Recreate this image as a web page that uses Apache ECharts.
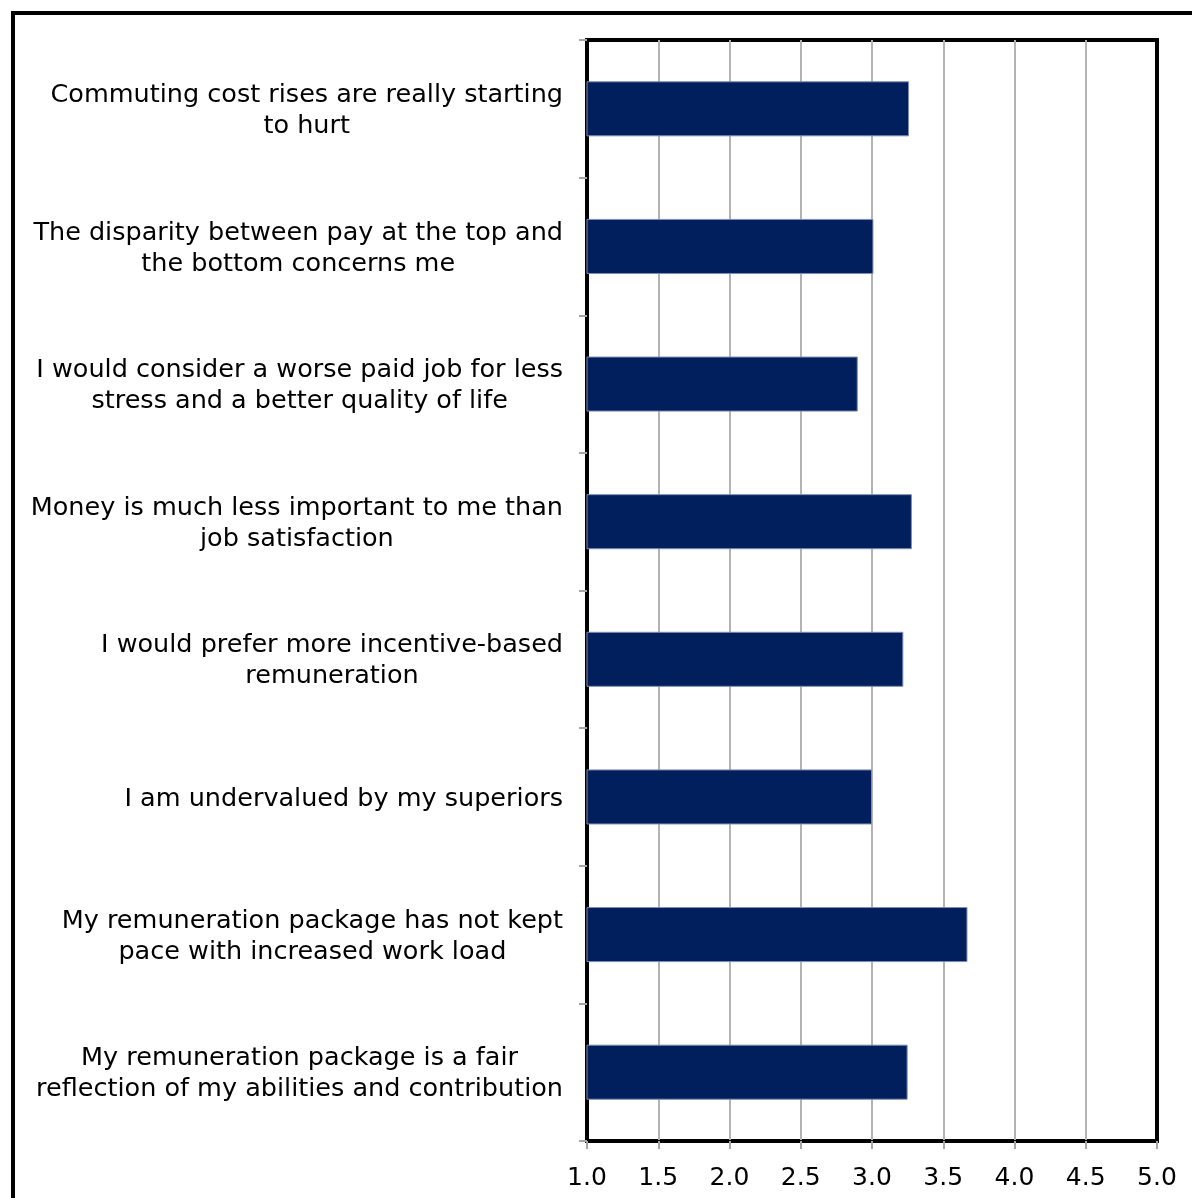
<!DOCTYPE html>
<html>
<head>
<meta charset="utf-8">
<title>Attitudes to pay and remuneration</title>
<script src="https://cdn.jsdelivr.net/npm/echarts@6/dist/echarts.min.js"></script>
<style>
  html, body { margin: 0; padding: 0; background: #fff; }
  #chart { width: 1192px; height: 1198px; }
</style>
</head>
<body>
<div id="chart"></div>
<script>
// Statements (top to bottom) and their mean agreement scores on a 1–5 scale
const statements = [
  'Commuting cost rises are really starting\nto hurt',
  'The disparity between pay at the top and\nthe bottom concerns me',
  'I would consider a worse paid job for less\nstress and a better quality of life',
  'Money is much less important to me than\njob satisfaction',
  'I would prefer more incentive-based\nremuneration',
  'I am undervalued by my superiors',
  'My remuneration package has not kept\npace with increased work load',
  'My remuneration package is a fair\nreflection of my abilities and contribution'
];
const scores = [3.26, 3.01, 2.90, 3.28, 3.22, 3.00, 3.67, 3.25];

// Value axis range and step
const axisMin = 1.0;
const axisMax = 5.0;
const axisStep = 0.5;

const FONT = '"DejaVu Sans", Verdana, sans-serif';

const chart = echarts.init(document.getElementById('chart'));

chart.setOption({
  animation: false,
  backgroundColor: '#ffffff',
  graphic: [{
    // outer frame of the figure
    type: 'rect',
    z: 100,
    shape: { x: 13, y: 13, width: 1400, height: 1400 },
    style: { fill: 'none', stroke: '#000', lineWidth: 4 }
  }],
  grid: {
    left: 587,
    right: 35,
    top: 40,
    bottom: 57,
    show: true,
    borderColor: '#000',
    borderWidth: 4,
    backgroundColor: 'transparent'
  },
  xAxis: {
    type: 'value',
    min: axisMin,
    max: axisMax,
    interval: axisStep,
    axisLine: { show: true, lineStyle: { color: '#000', width: 3 } },
    axisTick: { show: true, length: 8, lineStyle: { color: '#a6a6a6', width: 2 } },
    splitLine: {
      show: true,
      showMinLine: false,
      showMaxLine: false,
      lineStyle: { color: '#b3b3b3', width: 2 }
    },
    axisLabel: {
      margin: 25,
      color: '#000',
      fontSize: 25,
      fontFamily: FONT,
      formatter: v => v.toFixed(1)
    }
  },
  yAxis: {
    type: 'category',
    inverse: true,
    data: statements,
    axisLine: { show: true, lineStyle: { color: '#000', width: 3 } },
    axisTick: { show: true, length: 8, alignWithLabel: false, lineStyle: { color: '#a6a6a6', width: 2 } },
    splitLine: { show: false },
    axisLabel: {
      margin: 24,
      color: '#000',
      fontSize: 25.5,
      lineHeight: 31,
      padding: [4, 0, 0, 0],
      fontFamily: FONT,
      formatter: v => v.split('\n').map(line => '{c|' + line + '}').join('\n'),
      rich: {
        c: { align: 'center', fontSize: 25.5, lineHeight: 31, fontFamily: FONT, color: '#000' }
      }
    }
  },
  series: [{
    type: 'bar',
    data: scores,
    barWidth: '40%',
    itemStyle: {
      color: '#001f5c',
      borderColor: '#7f8db3',
      borderWidth: 1
    }
  }]
});
</script>
</body>
</html>
